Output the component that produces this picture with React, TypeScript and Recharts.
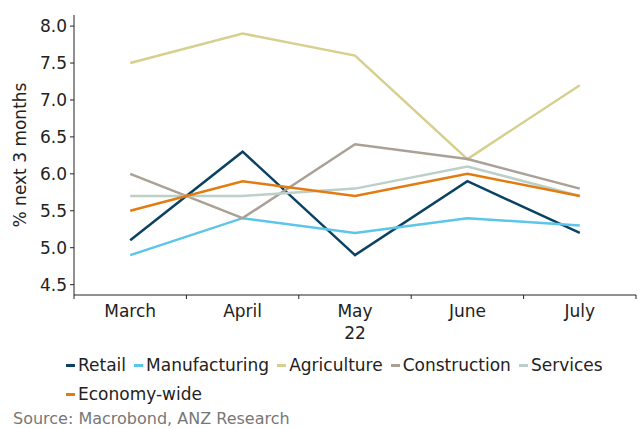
import { LineChart, Line, XAxis, YAxis } from "recharts";

const months = ["March", "April", "May", "June", "July"];
const retail = [5.1, 6.3, 4.9, 5.9, 5.2];
const manufacturing = [4.9, 5.4, 5.2, 5.4, 5.3];
const agriculture = [7.5, 7.9, 7.6, 6.2, 7.2];
const construction = [6.0, 5.4, 6.4, 6.2, 5.8];
const services = [5.7, 5.7, 5.8, 6.1, 5.7];
const economyWide = [5.5, 5.9, 5.7, 6.0, 5.7];

const yTicks = [4.5, 5.0, 5.5, 6.0, 6.5, 7.0, 7.5, 8.0];
const xTicks = [-0.5, 0, 0.5, 1, 1.5, 2, 2.5, 3, 3.5, 4, 4.5];

const series = [
  { key: "retail", name: "Retail", color: "#0b4263", values: retail },
  { key: "manufacturing", name: "Manufacturing", color: "#5cc5ea", values: manufacturing },
  { key: "agriculture", name: "Agriculture", color: "#d6d08e", values: agriculture },
  { key: "construction", name: "Construction", color: "#aaa096", values: construction },
  { key: "services", name: "Services", color: "#bccfc9", values: services },
  { key: "economyWide", name: "Economy-wide", color: "#e27c10", values: economyWide },
];

const data = months.map((m, i) => {
  const row: Record<string, number | string> = { x: i, month: m };
  series.forEach((s) => (row[s.key] = s.values[i]));
  return row;
});

const FONT = "'DejaVu Sans', Verdana, sans-serif";

// integer ticks carry the month label, half ticks are the small marks between months
function MonthTick(props: any) {
  const { x, y, payload } = props;
  const v = payload.value as number;
  if (!Number.isInteger(v)) {
    return <line x1={x} x2={x} y1={y} y2={y + 4} stroke="#222" strokeWidth={1} />;
  }
  return (
    <g>
      <text x={x} y={y + 22} textAnchor="middle" fontSize={17} fill="#222" fontFamily={FONT}>
        {months[v]}
      </text>
      {v === 2 && (
        <text x={x} y={y + 44} textAnchor="middle" fontSize={17} fill="#222" fontFamily={FONT}>
          22
        </text>
      )}
    </g>
  );
}

export default function App() {
  return (
    <div
      style={{
        position: "absolute",
        left: 0,
        top: 0,
        width: 638,
        height: 428,
        background: "#fff",
        fontFamily: FONT,
        overflow: "hidden",
      }}
    >
      <LineChart width={638} height={345} data={data} margin={{ top: 15, right: 2, bottom: 0, left: 0 }}>
        <XAxis
          dataKey="x"
          type="number"
          domain={[-0.5, 4.5]}
          ticks={xTicks}
          interval={0}
          tickLine={false}
          tickSize={0}
          tickMargin={0}
          tick={<MonthTick />}
          height={50}
          stroke="#222"
        />
        <YAxis
          domain={[4.36, 8.15]}
          ticks={yTicks}
          allowDataOverflow
          width={74}
          tickSize={4}
          tickMargin={3}
          stroke="#222"
          tick={{ fontSize: 17, fill: "#222", fontFamily: FONT }}
          tickFormatter={(v: number) => v.toFixed(1)}
          label={{
            value: "% next 3 months",
            angle: -90,
            position: "insideLeft",
            offset: 20,
            style: { textAnchor: "middle", fontSize: 17, fill: "#222", fontFamily: FONT },
          }}
        />
        {series.map((s) => (
          <Line
            key={s.key}
            dataKey={s.key}
            name={s.name}
            stroke={s.color}
            strokeWidth={2.5}
            dot={false}
            activeDot={false}
            isAnimationActive={false}
          />
        ))}
      </LineChart>
      <div
        style={{
          position: "absolute",
          left: 66,
          top: 355,
          width: 570,
          display: "flex",
          flexWrap: "wrap",
          rowGap: 8,
          fontSize: 17,
          color: "#222",
          lineHeight: "21px",
        }}
      >
        {series.map((s) => (
          <div key={s.key} style={{ display: "flex", alignItems: "center", marginRight: 8 }}>
            <span style={{ display: "inline-block", width: 9, height: 3, background: s.color, marginRight: 3 }} />
            <span>{s.name}</span>
          </div>
        ))}
      </div>
      <div style={{ position: "absolute", left: 13, top: 409, fontSize: 16, lineHeight: "19px", color: "#777" }}>
        Source: Macrobond, ANZ Research
      </div>
    </div>
  );
}
